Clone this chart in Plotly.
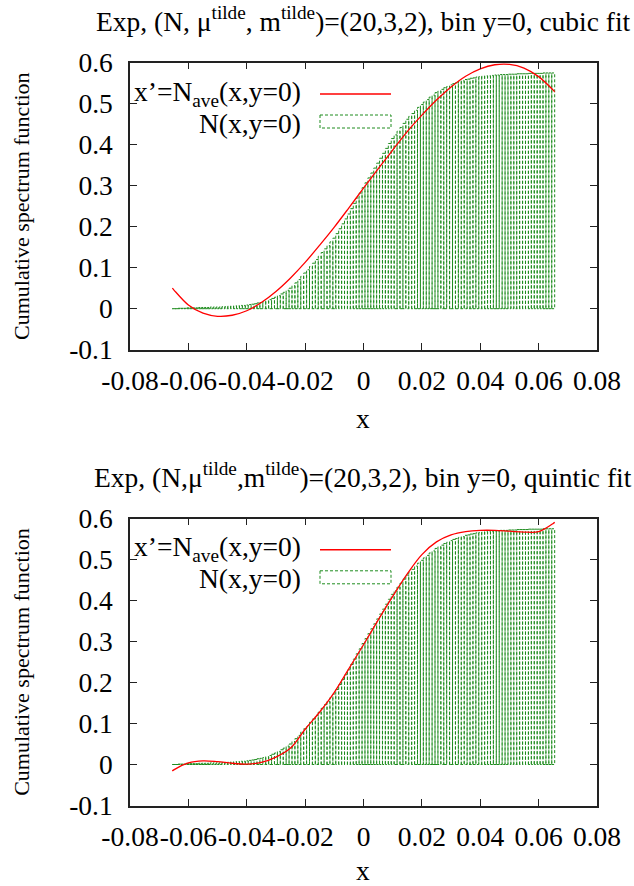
import plotly.graph_objects as go

# ---------------- data ----------------
BIN_START = -0.065
BIN_WIDTH = 0.001
N_cdf = [
    0.000, 0.000, 0.001, 0.001, 0.001, 0.002, 0.002, 0.002, 0.002, 0.003,
    0.003, 0.003, 0.003, 0.004, 0.004, 0.004, 0.004, 0.005, 0.005, 0.006,
    0.006, 0.007, 0.007, 0.008, 0.008, 0.009, 0.010, 0.011, 0.012, 0.014,
    0.015, 0.017, 0.019, 0.022, 0.025, 0.028, 0.032, 0.036, 0.040, 0.045,
    0.050, 0.056, 0.063, 0.071, 0.079, 0.087, 0.095, 0.103, 0.111, 0.120,
    0.128, 0.137, 0.146, 0.154, 0.163, 0.172, 0.183, 0.195, 0.207, 0.219,
    0.231, 0.244, 0.257, 0.270, 0.282, 0.295, 0.307, 0.319, 0.331, 0.343,
    0.355, 0.367, 0.379, 0.391, 0.403, 0.415, 0.424, 0.433, 0.442, 0.452,
    0.462, 0.469, 0.476, 0.484, 0.491, 0.498, 0.504, 0.510, 0.516, 0.521,
    0.527, 0.531, 0.535, 0.539, 0.542, 0.546, 0.549, 0.551, 0.554, 0.556,
    0.559, 0.560, 0.562, 0.563, 0.565, 0.566, 0.567, 0.568, 0.568, 0.569,
    0.570, 0.570, 0.571, 0.571, 0.571, 0.572, 0.572, 0.572, 0.573, 0.573,
    0.573, 0.573, 0.574, 0.574, 0.574, 0.574, 0.574, 0.575, 0.575, 0.575,
    0.575,
]
bin_x = [round(BIN_START + BIN_WIDTH * i, 4) for i in range(len(N_cdf))]

fit_x = [-0.0655, -0.065, -0.060, -0.055, -0.050, -0.045, -0.040, -0.035,
         -0.030, -0.025, -0.020, -0.015, -0.010, -0.005, 0.000, 0.005,
         0.010, 0.015, 0.020, 0.025, 0.030, 0.035, 0.040, 0.045, 0.050,
         0.055, 0.060, 0.065, 0.0655]
cubic_y = [0.050, 0.046, 0.009, -0.011, -0.0185, -0.016, -0.005, 0.015,
           0.042, 0.075, 0.113, 0.155, 0.199, 0.246, 0.294, 0.341,
           0.387, 0.432, 0.472, 0.509, 0.541, 0.567, 0.585, 0.595, 0.596,
           0.587, 0.566, 0.533, 0.529]
quintic_y = [-0.016, -0.013, 0.004, 0.009, 0.007, 0.003, 0.001, 0.005,
             0.018, 0.040, 0.086, 0.128, 0.176, 0.234, 0.292, 0.352,
             0.410, 0.465, 0.512, 0.543, 0.560, 0.568, 0.571, 0.571, 0.569,
             0.567, 0.568, 0.588, 0.591]

x_ticks = [-0.08, -0.06, -0.04, -0.02, 0, 0.02, 0.04, 0.06, 0.08]
x_ticktext = ["-0.08", "-0.06", "-0.04", "-0.02", "0", "0.02", "0.04", "0.06", "0.08"]
y_ticks = [-0.1, 0, 0.1, 0.2, 0.3, 0.4, 0.5, 0.6]
y_ticktext = ["-0.1", "0", "0.1", "0.2", "0.3", "0.4", "0.5", "0.6"]

titles = [
    "Exp, (N, μ<sup>tilde</sup>, m<sup>tilde</sup>)=(20,3,2), bin y=0, cubic fit",
    "Exp, (N,μ<sup>tilde</sup>,m<sup>tilde</sup>)=(20,3,2), bin y=0, quintic fit",
]
legend_fit = "x’=N<sub>ave</sub>(x,y=0)"
legend_hist = "N(x,y=0)"
y_label = "Cumulative spectrum function"
x_label = "x"

# ---------------- style ----------------
W, H = 634, 886
FONT = "Times New Roman, Liberation Serif, serif"
FS = 27.5
FS_TICK = 27.5
FS_YLAB = 22
GREEN = "#1e8c1e"
RED = "#ff0000"

def px(x):
    return x / W

def py(y):
    return 1 - y / H

# plot frames in pixels (left, right, top, bottom)
frames = [(130, 597, 62.7, 349.7), (130, 597, 518.5, 805.5)]

# box outlines for histogram
hx, hy = [], []
for xc, v in zip(bin_x, N_cdf):
    l = xc - BIN_WIDTH / 2
    r = xc + BIN_WIDTH / 2
    hx += [l, l, r, r, l, None]
    hy += [0, v, v, 0, 0, None]

fig = go.Figure()
fits = [cubic_y, quintic_y]
for k in range(2):
    xa = "x" if k == 0 else "x2"
    ya = "y" if k == 0 else "y2"
    fig.add_trace(go.Scatter(x=hx, y=hy, mode="lines", xaxis=xa, yaxis=ya,
                             line=dict(color=GREEN, width=1, dash="3px,2px"),
                             showlegend=False, hoverinfo="skip"))
    fig.add_trace(go.Scatter(x=fit_x, y=fits[k], mode="lines", xaxis=xa, yaxis=ya,
                             line=dict(color=RED, width=1.3, shape="spline"),
                             showlegend=False))

axis_common = dict(showline=True, linecolor="#222", linewidth=1.5, mirror="allticks",
                   ticks="inside", ticklen=7, tickcolor="#222", tickwidth=1,
                   showgrid=False, zeroline=False, tickangle=0, automargin=False,
                   tickfont=dict(family=FONT, size=FS_TICK, color="black"))

layout = dict(template="none", width=W, height=H,
              margin=dict(l=0, r=0, t=0, b=0, pad=0, autoexpand=False),
              paper_bgcolor="white", plot_bgcolor="white", showlegend=False,
              font=dict(family=FONT, size=FS, color="black"))

for k, (l, r, t, b) in enumerate(frames):
    sfx = "" if k == 0 else "2"
    layout["xaxis" + sfx] = dict(axis_common, domain=[px(l), px(r)], range=[-0.08, 0.08],
                                 tickvals=x_ticks, ticktext=x_ticktext,
                                 anchor="y" + sfx, ticklabelstandoff=6)
    layout["yaxis" + sfx] = dict(axis_common, domain=[py(b), py(t)], range=[-0.1, 0.6],
                                 tickvals=y_ticks, ticktext=y_ticktext,
                                 anchor="x" + sfx, ticklabelstandoff=10)
fig.update_layout(**layout)

annotations = []
shapes = []
xlab_y = [418, 870]
for k, (l, r, t, b) in enumerate(frames):
    off = t - 62.7
    annotations.append(dict(text=titles[k], x=px(363), y=py(20 + off), xref="paper", yref="paper",
                            showarrow=False, xanchor="center", yanchor="middle",
                            font=dict(family=FONT, size=FS)))
    annotations.append(dict(text=x_label, x=px(363), y=py(xlab_y[k]), xref="paper", yref="paper",
                            showarrow=False, xanchor="center", yanchor="middle",
                            font=dict(family=FONT, size=FS)))
    annotations.append(dict(text=y_label, x=px(22), y=py(206 + off), xref="paper", yref="paper",
                            showarrow=False, xanchor="center", yanchor="middle", textangle=-90,
                            font=dict(family=FONT, size=FS_YLAB)))
    annotations.append(dict(text=legend_fit, x=px(303), y=py(93 + off), xref="paper", yref="paper",
                            showarrow=False, xanchor="right", yanchor="middle",
                            font=dict(family=FONT, size=FS)))
    annotations.append(dict(text=legend_hist, x=px(303), y=py(123 + off), xref="paper", yref="paper",
                            showarrow=False, xanchor="right", yanchor="middle",
                            font=dict(family=FONT, size=FS)))
    shapes.append(dict(type="line", xref="paper", yref="paper",
                       x0=px(320), x1=px(391), y0=py(94 + off), y1=py(94 + off),
                       line=dict(color=RED, width=1.5)))
    shapes.append(dict(type="rect", xref="paper", yref="paper",
                       x0=px(320), x1=px(391), y0=py(115 + off), y1=py(128 + off),
                       line=dict(color=GREEN, width=1, dash="3px,2px")))

fig.update_layout(annotations=annotations, shapes=shapes)
fig.write_html("out.html")
